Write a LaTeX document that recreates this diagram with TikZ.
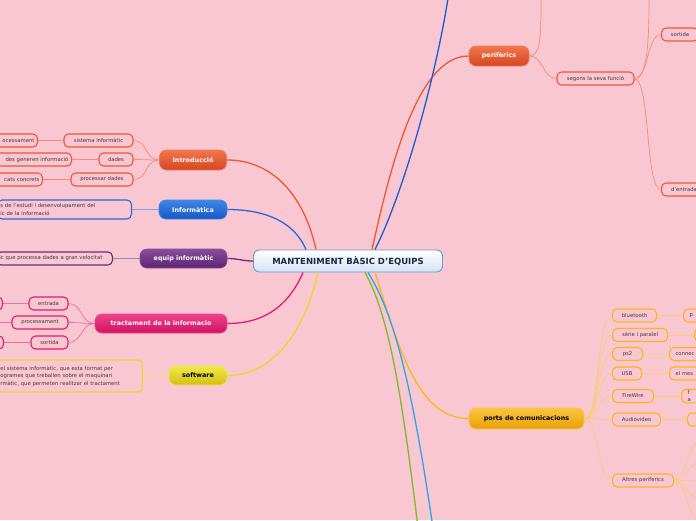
\documentclass[tikz,border=0pt]{standalone}
\usepackage{fontspec}
\setmainfont{DejaVu Sans}
\usetikzlibrary{positioning,calc}
\definecolor{bgpink}{RGB}{249,199,209}
\definecolor{subtext}{RGB}{70,55,60}
\definecolor{navytext}{RGB}{28,40,72}
\definecolor{centerline}{RGB}{100,155,210}
\definecolor{centerlow}{RGB}{212,226,242}
\definecolor{periorange}{RGB}{238,88,48}
\definecolor{periA}{RGB}{242,118,78}
\definecolor{periB}{RGB}{212,70,34}
\definecolor{perilight}{RGB}{246,140,112}
\definecolor{infoblue}{RGB}{38,104,218}
\definecolor{infoA}{RGB}{62,134,232}
\definecolor{infoB}{RGB}{22,88,196}
\definecolor{topblue}{RGB}{26,92,214}
\definecolor{equippurple}{RGB}{104,46,128}
\definecolor{equipA}{RGB}{136,76,156}
\definecolor{equipB}{RGB}{92,36,112}
\definecolor{tractmag}{RGB}{226,28,110}
\definecolor{tractA}{RGB}{240,66,136}
\definecolor{tractB}{RGB}{206,18,96}
\definecolor{tractlight}{RGB}{240,110,160}
\definecolor{softyellow}{RGB}{238,214,40}
\definecolor{softA}{RGB}{240,232,74}
\definecolor{softB}{RGB}{212,192,18}
\definecolor{portsorange}{RGB}{250,182,28}
\definecolor{portsA}{RGB}{252,198,64}
\definecolor{portsB}{RGB}{232,160,8}
\definecolor{portslight}{RGB}{250,204,120}
\definecolor{skyblue}{RGB}{40,168,226}
\definecolor{leafgreen}{RGB}{128,186,40}
\tikzset{
    centerbox/.style={rounded corners=6pt, minimum width=189pt, minimum height=22pt,
        top color=white, bottom color=centerlow, draw=centerline, line width=0.9pt,
        font=\fontsize{8.5}{9}\selectfont\bfseries, text=navytext},
    mainbox/.style n args={3}{rounded corners=7pt, minimum height=19pt, inner xsep=5pt,
        top color=#1, bottom color=#2, draw=#3, line width=0.7pt,
        font=\fontsize{6.4}{7}\selectfont\bfseries, text=white},
    subbox/.style={rounded corners=4.5pt, minimum height=13pt, inner xsep=3pt, inner ysep=1pt,
        fill=bgpink, draw=#1, line width=1.1pt, font=\fontsize{5.3}{7.5}\selectfont, text=subtext},
    notebox/.style 2 args={subbox=#1, align=left, text width=#2, anchor=east},
    cutbox/.style 2 args={subbox=#1, align=right, text width=#2, anchor=east},
    mainlink/.style={draw=#1, line width=1.3pt},
    sublink/.style={draw=#1, line width=0.7pt}
}
\begin{document}
\begin{tikzpicture}[x=1pt, y=-1pt]
    \useasboundingbox (0,0) rectangle (696,520);
    \fill[bgpink] (0,0) rectangle (696,520);
    \clip (0,0) rectangle (696,520);

    % Central topic
    \node[centerbox] (center) at (348,261) {MANTENIMENT BÀSIC D'EQUIPS};

    % Main topics
    \node[mainbox={periA}{periB}{periA}, minimum width=60pt, minimum height=20pt] (peri) at (499,56) {perifèrics};
    \node[mainbox={periA}{periB}{periA}, minimum width=67pt, minimum height=20pt] (intro) at (193,160) {Introducció};
    \node[mainbox={infoA}{infoB}{infoA}, minimum width=68pt] (info) at (193,209.5) {Informàtica};
    \node[mainbox={equipA}{equipB}{equipA}, minimum width=87pt] (equip) at (183.5,258.5) {equip informàtic};
    \node[mainbox={tractA}{tractB}{tractA}, minimum width=132pt] (tract) at (161,323.5) {tractament de la informacio};
    \node[mainbox={softA}{softB}{softA}, minimum width=58pt, text=black] (soft) at (198,375.5) {software};
    \node[mainbox={portsA}{portsB}{portsA}, minimum width=115pt, minimum height=21pt, text=black] (ports) at (526.5,418.5) {ports de comunicacions};

    % Branches leaving the picture
    \coordinate (top-blue) at (449,-8);
    \coordinate (down-sky) at (433,528);
    \coordinate (down-green) at (418,528);

    % Main links
    \draw[mainlink=periorange] ($(center.north)+(24,0)$) .. controls +(20,-90) and +(-50,0) .. (peri.west);
    \draw[mainlink=topblue] ($(center.north)+(27,0)$) .. controls +(30,-60) and +(-12,80) .. (top-blue);
    \draw[mainlink=periorange] (intro.east) .. controls +(45,0) and +(-12,-55) .. ($(center.north)+(-32,0)$);
    \draw[mainlink=infoblue] (info.east) .. controls +(38,0) and +(-12,-28) .. ($(center.north)+(-42,0)$);
    \draw[mainlink=equippurple] (equip.east) .. controls +(12,0) and +(-12,0) .. (center.west);
    \draw[mainlink=tractmag] (tract.east) .. controls +(42,0) and +(-12,28) .. ($(center.south)+(-45,0)$);
    \draw[mainlink=softyellow] (soft.east) .. controls +(48,0) and +(-12,55) .. ($(center.south)+(-30,0)$);
    \draw[mainlink=portsorange] ($(center.south)+(27,0)$) .. controls +(25,80) and +(-50,0) .. (ports.west);
    \draw[mainlink=skyblue] ($(center.south)+(20,0)$) .. controls +(25,40) and +(-22,-150) .. (down-sky);
    \draw[mainlink=leafgreen] ($(center.south)+(17,0)$) .. controls +(22,40) and +(-18,-150) .. (down-green);

    % Introduccio
    \node[subbox=periorange, minimum width=69pt] (sisinf) at (98.5,140.5) {sistema informàtic};
    \node[subbox=periorange, minimum width=34pt] (dades) at (116,159.5) {dades};
    \node[subbox=periorange, minimum width=62pt] (procdad) at (102,179.5) {processar dades};
    \node[cutbox={periorange}{40pt}] (sisinf-l) at (38,140.5) {ocessament};
    \node[cutbox={periorange}{76pt}] (dades-l) at (72,159.5) {des generen informació};
    \node[cutbox={periorange}{44pt}] (procdad-l) at (43,179.5) {cats concrets};
    \foreach \n in {sisinf,dades,procdad} {
        \draw[sublink=perilight] (intro.west) .. controls +(-14,0) and +(14,0) .. (\n.east);
        \draw[sublink=perilight] (\n.west) -- (\n-l.east);
    }

    % Informatica and equip informatic
    \node[notebox={infoblue}{128pt}, minimum height=19pt] (info-txt) at (132,209.5)
        {s de l'estudi i desenvolupament del\\ic de la informació};
    \draw[sublink=infoblue!60!white] (info.west) -- (info-txt.east);
    \node[notebox={equippurple}{110pt}] (equip-txt) at (113,258.5) {ic que processa dades a gran velocitat};
    \draw[sublink=equippurple!60!white] (equip.west) -- (equip-txt.east);

    % Tractament de la informacio
    \node[subbox=tractmag, minimum width=39pt] (tr-ent) at (48.5,303.5) {entrada};
    \node[subbox=tractmag, minimum width=56pt] (tr-proc) at (40,322.5) {processament};
    \node[subbox=tractmag, minimum width=37pt] (tr-sort) at (49.5,342.5) {sortida};
    \node[subbox=tractmag, minimum width=20pt, anchor=east] (tr-ent-l) at (3,303.5) {};
    \coordinate (tr-proc-l) at (-5,322.5);
    \node[subbox=tractmag, minimum width=20pt, anchor=east] (tr-sort-l) at (4,342.5) {};
    \foreach \n in {tr-ent,tr-proc,tr-sort} {
        \draw[sublink=tractlight] (tract.west) .. controls +(-14,0) and +(14,0) .. (\n.east);
        \draw[sublink=tractlight] (\n.west) -- (\n-l);
    }

    % Software
    \node[notebox={softyellow}{139pt}, minimum height=32pt] (soft-txt) at (143,376)
        {el sistema informàtic, que esta format per\\ogrames que treballen sobre el maquinari\\rmàtic, que permeten realitzar el tractament};
    \draw[sublink=softyellow!70!white] (soft.west) -- (soft-txt.east);

    % Perifèrics
    \node[subbox=periorange, minimum width=77pt] (segons) at (595.5,78.5) {segons la seva funció};
    \node[subbox=periorange, minimum width=37pt, anchor=west] (sortida) at (661,34.5) {sortida};
    \node[subbox=periorange, minimum width=45pt, anchor=west] (dentrada) at (661,189.5) {d'entrada};
    \coordinate (peri-up) at (541,-6);
    \coordinate (segons-up) at (649,-6);
    \draw[sublink=perilight] (peri.east) .. controls +(12,0) and +(0,40) .. (peri-up);
    \draw[sublink=perilight] (peri.east) .. controls +(14,0) and +(-14,0) .. (segons.west);
    \draw[sublink=perilight] (segons.east) .. controls +(14,0) and +(0,40) .. (segons-up);
    \draw[sublink=perilight] (segons.east) .. controls +(14,0) and +(-14,0) .. (sortida.west);
    \draw[sublink=perilight] (segons.east) .. controls +(16,2) and +(-16,0) .. (dentrada.west);

    % Ports de comunicacions
    \foreach \y/\n/\txt/\w/\gx/\gtxt in {
        315.5/bt/bluetooth/44/683/p,
        335/serie/sèrie i paralel/55/694/,
        354/ps/ps\/2/30/669/connec,
        373.5/usb/USB/29/669/el mes,
        396/fw/FireWire/41/681/{f\\a},
        419.5/av/Audiovideo/48/687/} {
        \node[subbox=portsorange, minimum width=\w pt, anchor=west] (port-\n) at (612,\y) {\txt};
        \node[subbox=portsorange, anchor=west, align=left, text width=34pt, inner xsep=6pt] (port-\n-r) at (\gx,\y) {\gtxt};
        \draw[sublink=portslight] (ports.east) .. controls +(15,0) and +(-15,0) .. (port-\n.west);
        \draw[sublink=portslight] (port-\n.east) -- (port-\n-r.west);
    }
    \node[subbox=portsorange, minimum width=61pt, anchor=west] (port-altres) at (612,480.5) {Altres periferics};
    \draw[sublink=portslight] (ports.east) .. controls +(15,0) and +(-15,0) .. (port-altres.west);
    \foreach \k/\yy in {1/440,2/462,3/481,4/500,5/522} {
        \coordinate (altres-\k) at (702,\yy);
        \draw[sublink=portslight] (port-altres.east) .. controls +(12,0) and +(-14,0) .. (altres-\k);
    }
\end{tikzpicture}
\end{document}
